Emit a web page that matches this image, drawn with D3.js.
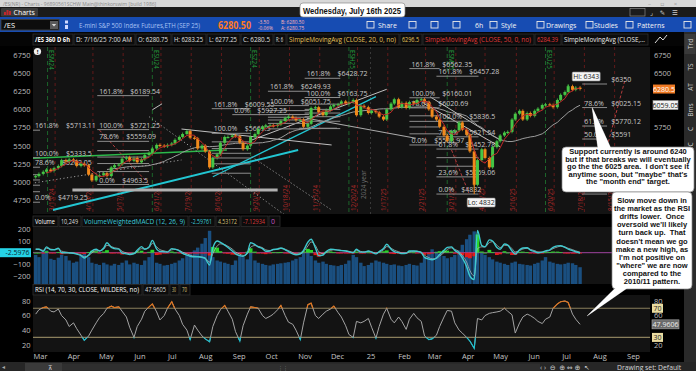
<!DOCTYPE html>
<html><head><meta charset="utf-8">
<script src="https://cdn.jsdelivr.net/npm/d3@7/dist/d3.min.js"></script>
<style>
html,body{margin:0;padding:0;background:#000;overflow:hidden;}
svg{display:block;}
text{white-space:pre;}
</style></head><body>
<svg id="chart" width="696" height="371" xmlns="http://www.w3.org/2000/svg"></svg>
<script>
// ================= DATA =================
const startDay = "2024-02-26";   // first half-week sample
const stepDays = 3.5;            // two samples per week

const closes = [
 5080,5110, 5140,5170, 5150,5190, 5220,5300, 5280,5310, 5290,5220, 5250,5230, 5100,5020, 5080,5090, 5120,5080,
 5200,5230, 5240,5320, 5340,5290, 5330,5270, 5310,5370, 5400,5460, 5510,5500, 5490,5510, 5530,5580, 5620,5660,
 5700,5610, 5600,5460, 5500,5420, 5200,5330, 5380,5540, 5620,5620, 5640,5630, 5540,5450, 5500,5620, 5660,5730,
 5760,5780, 5780,5770, 5790,5840, 5880,5900, 5880,5850, 5860,5760, 5800,6020, 6030,5960, 5920,5990, 6040,6060,
 6070,6110, 6080,6100, 6130,5920, 6050,6030, 5950,5980, 5960,5900, 5860,6000, 6080,6140, 6030,6090, 6020,6100,
 6080,6130, 6140,6100, 6000,5900, 5860,5760, 5640,5560, 5700,5710, 5820,5720, 5650,5420, 4960,5300, 5450,5330,
 5200,5480, 5560,5640, 5680,5690, 5860,5940, 5980,5860, 5950,5910, 5980,6010, 6060,6070, 6060,6030, 6130,6200,
 6240,6320, 6270,6300, 6280.5
];

const macdValues = [
 30,30,12,50,25,25,38,0,0,-2,
 -5,-12,-25,-45,-20,15,30,15,40,85,
 45,35,30,-3,-10,-15,-8,20,52,30,
 50,105,30,10,8,5,35,30,15,-5,
 -20,-30,-35,-35,-40,-50,-105,40,100,88,
 65,45,15,-10,-25,-30,0,85,70,50,
 35,12,15,28,32,40,25,10,-10,-18,
 -10,20,90,115,40,-25,-20,10,30,28,
 22,18,15,8,0,30,5,5,15,5,
 -10,10,35,72,30,10,0,-8,-5,15,
 15,12,0,-40,-55,-60,-45,-15,20,45,
 50,20,-5,-45,-120,-200,-230,190,60,50,
 110,100,45,30,75,65,15,-12,25,40,
 42,22,10,0,5,15,25,45,58,60,
 45,30,18,8,-2.6
];

const rsiValues = [
 62,68,71,72,66,65,69,60,54,45,
 50,42,33,26,32,40,50,57,63,70,
 73,71,72,66,58,44,30,45,55,66,
 72,76,65,54,60,70,79,69,60,48,
 40,27,47,40,32,28,24,45,60,68,
 74,66,55,38,25,46,62,72,71,70,
 60,56,59,62,68,74,60,51,48,40,
 27,50,75,77,60,56,62,66,69,73,
 64,58,46,34,30,52,50,52,56,44,
 29,45,62,70,55,50,58,52,41,55,
 63,57,52,32,27,28,33,45,58,67,
 66,50,40,36,30,25,15,56,54,60,
 63,64,65,66,70,66,61,36,50,58,
 62,60,56,52,49,55,58,70,76,79,
 80,78,62,55,47.96
];

const volumeK = [
 520,480,560,600,450,430,470,520,500,420,
 380,400,520,560,480,380,360,340,380,350,
 330,360,340,380,420,350,380,360,340,420,
 480,560,380,360,330,340,360,380,420,460,
 520,560,600,650,720,820,950,480,420,400,
 380,360,340,420,520,480,440,560,420,380,
 360,340,330,350,360,370,380,390,420,450,
 480,560,620,500,420,380,400,360,340,330,
 320,340,360,420,520,480,380,320,340,380,
 420,400,380,360,340,350,330,320,340,360,
 340,330,380,480,560,620,580,540,500,460,
 480,520,600,700,800,880,940,700,560,520,
 480,440,400,380,360,340,380,400,360,350,
 340,330,360,380,420,480,400,380,360,350,
 360,380,370,340,300
];

const priceTicks = [4750,5000,5250,5500,5750,6000,6250,6500,6750];
const macdTicks = [-200,-100,100,200];
const rsiTicks = [20,40,60,80];
const monthDates = ["2024-03-01","2024-04-01","2024-05-01","2024-06-01","2024-07-01","2024-08-01","2024-09-01","2024-10-01","2024-11-01","2024-12-01","2025-01-01","2025-02-01","2025-03-01","2025-04-01","2025-05-01","2025-06-01","2025-07-01","2025-08-01","2025-09-01"];
const monthLabels = ["Mar","Apr","May","Jun","Jul","Aug","Sep","Oct","Nov","Dec","25","Feb","Mar","Apr","May","Jun","Jul","Aug","Sep"];
const rollDates = ["2024-03-08","2024-06-13","2024-09-12","2024-12-12","2025-03-13","2025-06-12"];
const rollLabels = ["ESM24","ESU24","ESZ24","ESH25","ESM25","ESU25"];
const opexDates = ["2024-03-15","2024-04-19","2024-05-17","2024-06-21","2024-07-19","2024-08-16","2024-09-20","2024-10-18","2024-11-15","2024-12-20","2025-01-17","2025-02-21","2025-03-21","2025-04-17","2025-05-16","2025-06-20","2025-07-18","2025-08-15"];
const opexLabels = ["3/15/24","4/19/24","5/17/24","6/21/24","7/19/24","8/16/24","9/20/24","10/18/24","11/15/24","12/20/24","1/17/25","2/21/25","3/21/25","4/17/25","5/16/25","6/20/25","7/18/25","8/15/25"];
const yearMark = ["2025-01-01","2024 year"];

const fibLevels = [0,0.236,0.382,0.5,0.618,0.786,1,1.618];
const fibFrom   = ["2024-02-10","2024-04-23","2024-08-07","2024-09-28","2024-11-01","2025-02-06","2025-03-03","2025-07-16"];
const fibTo     = ["2024-03-01","2024-06-10","2024-09-12","2024-11-05","2024-12-04","2025-03-06","2025-04-11","2025-08-08"];
const fibLow    = [4719.25,4963.5,5119.25,5731.07,5735,5508.97,4832,4832];
const fibHigh   = [5333.5,5721.25,5669.5,6051.75,6163.75,6160.01,5836.5,6350];
const fibShown  = [[1.618,1,0.786,0],[1.618,1,0.786,0],[1.618,1],[1.618,1],[1.618,1],[1.618,1,0.786,0],[1.618,1,0.786,0.618,0.236,0],[0.786,0.618,0.5]];
const fibPriceOnly = [[],[],[],[],[],[],[],[1]];   // percentage hidden behind the Hi box
const singleLevel = {from:"2024-08-26", to:"2024-10-28", price:5927.25, pct:"0.0%"};

const trendLines = [
 {a:["2024-03-13",4612], b:["2024-10-26",5440], kind:"cyan"},
 {a:["2024-08-08",5071], b:["2025-01-06",6175], kind:"cyanThin"},
 {a:["2024-02-20",5325], b:["2024-08-21",5440], kind:"green"},
 {a:["2024-07-10",5729], b:["2024-11-26",5509], kind:"white"},
 {a:["2024-09-13",5577], b:["2025-01-16",6277], kind:"white"},
 {a:["2024-06-13",5994], b:["2024-06-22",6077], kind:"white"},
 {a:["2024-11-03",5877], b:["2025-02-12",5601], kind:"gray"},
 {a:["2024-10-27",5739], b:["2024-12-01",5739], kind:"gray"},
 {a:["2025-02-19",6084], b:["2025-05-01",5485], kind:"white"},
 {a:["2025-02-25",6175], b:["2025-05-01",5577], kind:"white"},
 {a:["2024-06-10",5899], b:["2024-10-15",4529], kind:"dotted"},
 {a:["2024-09-13",5347], b:["2024-11-26",4612], kind:"dotted"},
 {a:["2024-02-22",4980], b:["2024-07-10",5302], kind:"dotted"},
 {a:["2024-03-31",4888], b:["2024-10-07",4888], kind:"thick"},
 {a:["2024-04-25",5715], b:["2024-06-09",4980], kind:"redDash"},
 {a:["2025-03-17",5440], b:["2025-04-02",4846], kind:"redDash"},
 {a:["2025-08-08",5485], b:["2025-08-25",6428], kind:"redDash"}
];

const extremes = [
 {date:"2025-07-03", price:6343, label:"Hi: 6343", side:"above"},
 {date:"2025-04-07", price:4832, label:"Lo: 4832", side:"below"}
];

const lastPriceLabel = "6280.5", sma200Label = "6059.05", macdLastLabel = "-2.5976", rsiLastLabel = "47.9606";

const callout1 = ["Support currently is around 6240","but if that breaks we will eventually","go the the 6025 area.  I don't see it",'anytime soon, but "maybe" that\'s','the "month end" target.'];
const callout2 = ["Slow move down in","the market as the RSI","drifts lower.  Once","oversold we'll likely","turn back up.  That","doesn't mean we go","make a new high, as","I'm not positive on",'"where" we are now',"compared to the","2010/11 pattern."];
const dateCallout = "Wednesday, July 16th 2025";

// ================= SCALES =================
const parse = d3.timeParse("%Y-%m-%d");
const dates = closes.map((_, i) => d3.timeDay.offset(parse(startDay), Math.floor(i * stepDays)));
const x = d3.scaleTime().domain([parse("2024-03-01"), parse("2025-09-01")]).range([40, 633]);
const yP = d3.scaleLinear().domain([4750, 6750]).range([200, 55]);
const yM = d3.scaleLinear().domain([-200, 200]).range([276.1, 229.3]);
const yV = d3.scaleLinear().domain([0, 1000]).range([284, 228]);
const yR = d3.scaleLinear().domain([20, 80]).range([344.7, 301]);

const PL = 33, PR = 650;
const UI = "'Open Sans','DejaVu Sans',sans-serif";
const AR = "'Liberation Sans',Arial,sans-serif";
const svg = d3.select("#chart");
const defs = svg.append("defs");
function clip(id, x0, y0, w, h) { defs.append("clipPath").attr("id", id).append("rect").attr("x", x0).attr("y", y0).attr("width", w).attr("height", h); }
clip("cp", PL, 47, PR - PL, 167);
clip("cm", PL, 227, PR - PL, 57);
clip("cr", PL, 295, PR - PL, 57);
clip("crHi", PL, 295, PR - PL, yR(70) - 295);
clip("crLo", PL, yR(30), PR - PL, 352 - yR(30));

function fitText(sel, maxW) {
  sel.each(function () { const n = this; const w = n.getComputedTextLength(); if (w > maxW) { d3.select(n).attr("textLength", maxW).attr("lengthAdjust", "spacingAndGlyphs"); } });
  return sel;
}

// ================= CHROME =================
svg.append("rect").attr("width", 696).attr("height", 371).attr("fill", "#000");
svg.append("rect").attr("width", 696).attr("height", 7).attr("fill", "#d8d8d8");
svg.append("text").attr("x", 3).attr("y", 5.5).attr("font-size", 5).attr("font-family", UI).attr("fill", "#8c8c8c").text("/ES(NR) - Charts - 96890561SCHW Main@thinkorswim [build 1986]");
svg.append("text").attr("x", 648).attr("y", 5.5).attr("font-size", 6).attr("font-family", UI).attr("fill", "#999").text("–      ▫      ×");
svg.append("rect").attr("y", 7).attr("width", 696).attr("height", 10).attr("fill", "#1b1b1b");
svg.append("rect").attr("x", 1).attr("y", 8).attr("width", 37).attr("height", 8.5).attr("fill", "#3a3a3a").attr("rx", 1);
[[4, 12, 3], [6.5, 10, 5], [9, 11, 4]].forEach(d => svg.append("rect").attr("x", d[0]).attr("y", d[1]).attr("width", 2).attr("height", d[2]).attr("fill", "#c0282d"));
svg.append("text").attr("x", 13.5).attr("y", 15).attr("font-size", 7).attr("font-family", UI).attr("fill", "#fff").text("Charts");
svg.append("rect").attr("x", 630).attr("y", 8.5).attr("width", 15).attr("height", 7.5).attr("fill", "none").attr("stroke", "#888").attr("stroke-width", 0.7);
svg.append("text").attr("x", 650).attr("y", 15).attr("font-size", 6.5).attr("font-family", UI).attr("fill", "#ccc").text("⌟    ✎    ☰");
svg.append("rect").attr("y", 17).attr("width", 696).attr("height", 15).attr("fill", "#174cb2");
svg.append("rect").attr("x", 1).attr("y", 19.5).attr("width", 58).attr("height", 10.5).attr("fill", "#0d0d0d").attr("stroke", "#3c3c3c");
svg.append("text").attr("x", 4).attr("y", 28).attr("font-size", 7.5).attr("font-family", UI).attr("fill", "#fff").text("/ES");
svg.append("rect").attr("x", 50).attr("y", 21).attr("width", 8).attr("height", 8).attr("fill", "#5a5a5a");
svg.append("path").attr("d", "M51.8,24 L56.2,24 L54,26.5 Z").attr("fill", "#ddd");
svg.append("rect").attr("x", 65).attr("y", 20.5).attr("width", 3).attr("height", 3).attr("fill", "#cfd8ff");
svg.append("rect").attr("x", 65).attr("y", 25).attr("width", 3).attr("height", 4).attr("fill", "#cfd8ff");
fitText(svg.append("text").attr("x", 79).attr("y", 28).attr("font-size", 7.5).attr("font-family", UI).attr("fill", "#a8c3f4").text("E-mini S&P 500 Index Futures,ETH (SEP 25)"), 121);
fitText(svg.append("text").attr("x", 218).attr("y", 29).attr("font-size", 10).attr("font-weight", "bold").attr("font-family", UI).attr("fill", "#ff7a22").text("6280.50"), 33);
[["-3.50", 258, 23.5], ["-0.06%", 258, 29.5], ["B: 6280.50", 281, 23.5], ["A: 6280.75", 281, 29.5]].forEach(d =>
  svg.append("text").attr("x", d[1]).attr("y", d[2]).attr("font-size", 4.8).attr("font-family", UI).attr("fill", "#ffb7b7").text(d[0]));
[["Share", 378], ["6h", 475], ["Style", 501], ["Drawings", 546], ["Studies", 594], ["Patterns", 637]].forEach(d =>
  svg.append("text").attr("x", d[1]).attr("y", 27.5).attr("font-size", 7).attr("font-family", UI).attr("fill", "#f2f2f2").text(d[0]));
[367, 409, 431, 453, 490, 537, 586, 626, 684].forEach(px =>
  svg.append("rect").attr("x", px).attr("y", 21.5).attr("width", 7).attr("height", 6.5).attr("fill", "none").attr("stroke", "#e8e8e8").attr("stroke-width", 0.9));

svg.append("rect").attr("y", 32).attr("width", 684).attr("height", 14).attr("fill", "#050505");
const infoCells = [
 ["/ES 360 D 6h", 33, 73, "#ffffff", "bold"], ["D: 7/16/25 7:00 AM", 74, 135, "#e0e0e0"], ["O: 6280.75", 136, 171, "#e0e0e0"],
 ["H: 6283.25", 172, 206, "#e0e0e0"], ["L: 6277.25", 207, 240, "#e0e0e0"], ["C: 6280.5", 241, 273, "#e0e0e0"], ["R: 6", 274, 286, "#e0e0e0"],
 ["SimpleMovingAvg (CLOSE, 20, 0, no)", 287, 399, "#e7c35a"], ["6296.5", 400, 422, "#e7c35a"],
 ["SimpleMovingAvg (CLOSE, 50, 0, no)", 423, 534, "#e23a3a"], ["6284.39", 535, 561, "#e23a3a"],
 ["SimpleMovingAvg (CLOSE,...", 562, 648, "#ececec"]
];
function cells(list, y0, h) {
  list.forEach(c => {
    svg.append("rect").attr("x", c[1]).attr("y", y0).attr("width", c[2] - c[1]).attr("height", h).attr("fill", "#0c0c0c").attr("stroke", "#2f2f2f").attr("stroke-width", 0.8);
    fitText(svg.append("text").attr("x", c[1] + 2).attr("y", y0 + h - 3).attr("font-size", 7).attr("font-family", UI).attr("font-weight", c[4] || "normal").attr("fill", c[3]).text(c[0]), c[2] - c[1] - 5);
  });
}
cells(infoCells, 34, 11);
svg.append("path").attr("d", "M655,43 L660,37 L663,40 L667,35").attr("stroke", "#ddd").attr("fill", "none").attr("stroke-width", 1);

svg.append("rect").attr("x", PL).attr("y", 47).attr("width", PR - PL).attr("height", 167).attr("fill", "#131313");
svg.append("rect").attr("x", PL).attr("y", 227).attr("width", PR - PL).attr("height", 57).attr("fill", "#131313");
svg.append("rect").attr("x", PL).attr("y", 295).attr("width", PR - PL).attr("height", 57).attr("fill", "#131313");
cells([["Volume", 33, 58, "#fff"], ["10,249", 59, 81, "#ddd"], ["VolumeWeightedMACD (12, 26, 9)", 82, 188, "#3cc9d8"], ["-2.59761", 189, 215, "#3cc9d8"], ["4.53172", 216, 240, "#d9c27a"], ["-7.12934", 241, 268, "#d83a3a"], ["0", 269, 280, "#c455c4"]], 216, 10.5);
cells([["RSI (14, 70, 30, CLOSE, WILDERS, no)", 33, 142, "#fff"], ["47.9605", 143, 169, "#ddd"], ["30", 170, 179, "#d9c27a"], ["70", 180, 190, "#d9c27a"]], 284.5, 10.5);

svg.append("rect").attr("x", 684).attr("y", 32).attr("width", 12).attr("height", 330).attr("fill", "#2a2a2a");
svg.append("rect").attr("x", 684.5).attr("y", 34).attr("width", 11).attr("height", 20).attr("fill", "#3a3a3a");
[["Trd", 44], ["TS", 67], ["AT", 87], ["Bms", 110], ["C", 129], ["OC", 147]].forEach(d =>
  svg.append("text").attr("transform", `translate(692.5,${d[1]}) rotate(-90)`).attr("text-anchor", "middle").attr("font-size", 6.5).attr("font-family", UI).attr("fill", "#cfcfcf").text(d[0]));

svg.append("rect").attr("y", 362).attr("width", 696).attr("height", 9).attr("fill", "#262626");
svg.append("rect").attr("x", 25).attr("y", 363).attr("width", 37).attr("height", 8).attr("fill", "#3a3a3a");
svg.append("rect").attr("x", 62).attr("y", 363.5).attr("width", 478).attr("height", 7).attr("fill", "#2f2f2f");
svg.append("text").attr("x", 2).attr("y", 369).attr("font-size", 6).attr("font-family", UI).attr("fill", "#aaa").text("◂");
svg.append("text").attr("x", 48).attr("y", 369.5).attr("font-size", 6).attr("font-family", UI).attr("fill", "#ddd").text("⊼");
svg.append("text").attr("x", 278).attr("y", 369.5).attr("font-size", 5).attr("font-family", UI).attr("fill", "#999").text("⋮⋮");
svg.append("text").attr("x", 540).attr("y", 369.5).attr("font-size", 7).attr("font-family", UI).attr("fill", "#ccc").text("‹ ›  ⊖  ⊕ ⇔ ⊕  ↖");
svg.append("text").attr("x", 617).attr("y", 369.5).attr("font-size", 6.8).attr("font-family", UI).attr("fill", "#d8d8d8").text("Drawing set: Default");

// ================= PRICE PANE =================
const gp = svg.append("g").attr("clip-path", "url(#cp)");
opexDates.forEach((d, i) => {
  const xx = x(parse(d));
  gp.append("line").attr("x1", xx).attr("x2", xx).attr("y1", 47).attr("y2", 214).attr("stroke", "#6b1b1b").attr("stroke-dasharray", "3,3").attr("stroke-width", 0.9);
  gp.append("text").attr("transform", `translate(${xx - 1.5},211) rotate(-90)`).attr("font-size", 6.3).attr("font-family", UI).attr("fill", "#b22a2a").text(opexLabels[i]);
});
{ const xx = x(parse(yearMark[0]));
  gp.append("line").attr("x1", xx).attr("x2", xx).attr("y1", 47).attr("y2", 214).attr("stroke", "#3a3a3a").attr("stroke-dasharray", "2,3");
  gp.append("text").attr("transform", `translate(${xx - 5},199) rotate(-90)`).attr("font-size", 6.3).attr("font-family", UI).attr("fill", "#6e6e6e").text(yearMark[1]); }
rollDates.forEach((d, i) => {
  const xx = x(parse(d));
  gp.append("line").attr("x1", xx).attr("x2", xx).attr("y1", 47).attr("y2", 214).attr("stroke", "#1d6e2c").attr("stroke-dasharray", "4,3").attr("stroke-width", 0.9);
  gp.append("text").attr("transform", `translate(${xx + 1.5},50) rotate(90)`).attr("font-size", 6.3).attr("font-family", UI).attr("fill", "#239a3c").text(rollLabels[i]);
});

const lineStyles = {
  cyan: {c: "#22c6d2", w: 2}, cyanThin: {c: "#22c6d2", w: 1.3}, green: {c: "#2cb84a", w: 1.5},
  white: {c: "#d4d4d4", w: 0.9}, gray: {c: "#a9a9a9", w: 1.1}, dotted: {c: "#9a9a9a", w: 1, dash: "1.2,2.4"},
  thick: {c: "#b0b0b0", w: 3}, redDash: {c: "#b33b3b", w: 1, dash: "3,2"}
};
trendLines.forEach(t => {
  const s = lineStyles[t.kind];
  gp.append("line").attr("x1", x(parse(t.a[0]))).attr("y1", yP(t.a[1])).attr("x2", x(parse(t.b[0]))).attr("y2", yP(t.b[1]))
    .attr("stroke", s.c).attr("stroke-width", s.w).attr("stroke-dasharray", s.dash || null);
});

const fmt = v => String(+v.toFixed(2));
fibFrom.forEach((f, k) => {
  const x1 = x(parse(f)), x2 = x(parse(fibTo[k]));
  const lx = Math.max(x1, PL) + 2;
  fibLevels.forEach(p => {
    const v = fibLow[k] + p * (fibHigh[k] - fibLow[k]);
    const yy = yP(v);
    gp.append("line").attr("x1", x1).attr("x2", x2).attr("y1", yy).attr("y2", yy).attr("stroke", "#8d8d8d").attr("stroke-width", 1);
    if (fibShown[k].includes(p)) {
      gp.append("text").attr("x", lx).attr("y", yy - 2).attr("font-size", 7).attr("font-family", UI).attr("fill", "#c9c9c9")
        .text(`${(p * 100).toFixed(1)}%    $${fmt(v)}`);
    } else if (fibPriceOnly[k].includes(p)) {
      gp.append("text").attr("x", lx + 27).attr("y", yy - 2).attr("font-size", 7).attr("font-family", UI).attr("fill", "#c9c9c9").text(`$${fmt(v)}`);
    }
  });
});
{ const s = singleLevel, yy = yP(s.price), x1 = x(parse(s.from));
  gp.append("line").attr("x1", x1).attr("x2", x(parse(s.to))).attr("y1", yy).attr("y2", yy).attr("stroke", "#8d8d8d");
  gp.append("text").attr("x", x1 + 2).attr("y", yy - 2).attr("font-size", 7).attr("font-family", UI).attr("fill", "#c9c9c9").text(`${s.pct}    $${fmt(s.price)}`); }

function sma(arr, n) { return arr.map((_, i) => i < n - 1 ? null : d3.mean(arr.slice(i - n + 1, i + 1))); }
const sma50 = sma(closes, 4), sma200 = sma(closes, 20);
const lineGen = d3.line().defined(d => d[1] != null).x(d => x(d[0])).y(d => yP(d[1]));
gp.append("path").attr("d", lineGen(dates.map((d, i) => [d, sma200[i]]))).attr("fill", "none").attr("stroke", "#9c9c9c").attr("stroke-width", 1);

closes.forEach((c, i) => {
  const prev = i === 0 ? c - 15 : closes[i - 1];
  const up = c >= prev;
  const y1 = yP(Math.max(c, prev)), y2 = yP(Math.min(c, prev));
  gp.append("rect").attr("x", x(dates[i]) - 1.5).attr("width", 3).attr("y", y1).attr("height", Math.max(1.2, y2 - y1)).attr("fill", up ? "#46c646" : "#f28a1c");
  gp.append("line").attr("x1", x(dates[i])).attr("x2", x(dates[i])).attr("y1", y1 - 1.5).attr("y2", y2 + 1.5).attr("stroke", up ? "#46c646" : "#f28a1c").attr("stroke-width", 0.8);
});
gp.append("path").attr("d", lineGen(dates.map((d, i) => [d, sma50[i]]))).attr("fill", "none").attr("stroke", "#c22a2a").attr("stroke-width", 1);

extremes.forEach(e => {
  const dd = parse(e.date);
  const idx = d3.bisectLeft(dates, dd);
  const xx = x(dates[Math.min(idx, dates.length - 1)]);
  gp.append("line").attr("x1", xx).attr("x2", xx).attr("y1", yP(closes[idx])).attr("y2", yP(e.price)).attr("stroke", e.side === "above" ? "#46c646" : "#f28a1c").attr("stroke-width", 1);
  const bw = 28, bh = 9;
  const bx = e.side === "above" ? xx + 4 : xx - 7;
  const by = e.side === "above" ? yP(e.price) - 12.5 : yP(e.price) + 4;
  gp.append("rect").attr("x", bx).attr("y", by).attr("width", bw).attr("height", bh).attr("fill", "#f4f4f4").attr("stroke", "#888").attr("stroke-width", 0.6).attr("rx", 1);
  gp.append("text").attr("x", bx + bw / 2).attr("y", by + 6.8).attr("text-anchor", "middle").attr("font-size", 6.8).attr("font-family", UI).attr("fill", "#222").text(e.label);
});

svg.append("circle").attr("cx", 37.5).attr("cy", 51.5).attr("r", 3.6).attr("fill", "#f0f0f0");
svg.append("text").attr("x", 37.5).attr("y", 54).attr("text-anchor", "middle").attr("font-size", 6).attr("font-weight", "bold").attr("font-family", UI).attr("fill", "#111").text("!");

function styleAxis(g, size, color) {
  g.select(".domain").remove(); g.selectAll("line").remove();
  g.selectAll("text").attr("font-size", size).attr("font-family", UI).attr("fill", color);
}
svg.append("g").attr("transform", `translate(${PL - 1},0)`).call(d3.axisLeft(yP).tickValues(priceTicks).tickSize(0).tickPadding(1.5).tickFormat(d3.format("d"))).call(g => styleAxis(g, 7.5, "#bdbdbd"));
const rightBoxesY = [yP(6280.5), yP(6059.05)];
svg.append("g").attr("transform", `translate(652,0)`).call(d3.axisRight(yP).tickValues(priceTicks.filter(t => yP(t) < 142 && rightBoxesY.every(b => Math.abs(yP(t) - b) > 8))).tickSize(0).tickPadding(2).tickFormat(d3.format("d"))).call(g => styleAxis(g, 7.5, "#bdbdbd"));
function valueBox(xx, yy, w, fill, txtColor, label, stroke) {
  svg.append("rect").attr("x", xx).attr("y", yy - 4.5).attr("width", w).attr("height", 9).attr("fill", fill).attr("stroke", stroke || "none").attr("stroke-width", 0.6);
  svg.append("text").attr("x", xx + w / 2).attr("y", yy + 2.6).attr("text-anchor", "middle").attr("font-size", 7).attr("font-family", UI).attr("fill", txtColor).text(label);
}
valueBox(653, yP(+lastPriceLabel), 22, "#f07a23", "#fff", lastPriceLabel);
valueBox(653, yP(+sma200Label), 25, "#f2f2f2", "#222", sma200Label, "#999");

// ================= MACD / VOLUME PANE =================
const gm = svg.append("g").attr("clip-path", "url(#cm)");
volumeK.forEach((v, i) => {
  gm.append("rect").attr("x", x(dates[i]) - 1.7).attr("width", 3.4).attr("y", yV(v)).attr("height", yV(0) - yV(v)).attr("fill", "#1a4f80");
});
gm.append("line").attr("x1", PL).attr("x2", PR).attr("y1", yM(0)).attr("y2", yM(0)).attr("stroke", "#b04ab0").attr("stroke-width", 0.9);
const alpha = 0.6; const avg = [];
macdValues.forEach((v, i) => avg.push(i === 0 ? v : alpha * v + (1 - alpha) * avg[i - 1]));
macdValues.forEach((v, i) => {
  const d = v - avg[i];
  gm.append("rect").attr("x", x(dates[i]) - 1.9).attr("width", 3.8).attr("y", Math.min(yM(0), yM(d))).attr("height", Math.max(0.8, Math.abs(yM(d) - yM(0))))
    .attr("fill", d >= 0 ? "#28d628" : "#e01c1c");
});
const mLine = d3.line().x((d, i) => x(dates[i])).y(d => yM(d)).curve(d3.curveMonotoneX);
gm.append("path").attr("d", mLine(avg)).attr("fill", "none").attr("stroke", "#a9b9b9").attr("stroke-width", 0.8);
gm.append("path").attr("d", mLine(macdValues)).attr("fill", "none").attr("stroke", "#3fc9cf").attr("stroke-width", 1.4);
svg.append("g").attr("transform", `translate(${PL - 1},0)`).call(d3.axisLeft(yM).tickValues(macdTicks).tickSize(0).tickPadding(1.5)).call(g => styleAxis(g, 7.5, "#bdbdbd"));
svg.append("rect").attr("x", 0).attr("y", yM(0) - 4.5).attr("width", 31).attr("height", 9).attr("fill", "#25d3e6");
svg.append("text").attr("x", 29.5).attr("y", yM(0) + 2.6).attr("text-anchor", "end").attr("font-size", 7).attr("font-family", UI).attr("fill", "#0b2630").text(macdLastLabel);

// ================= RSI PANE =================
const gr = svg.append("g");
[70, 30].forEach(v => gr.append("line").attr("x1", PL).attr("x2", PR).attr("y1", yR(v)).attr("y2", yR(v)).attr("stroke", "#8a7f5c").attr("stroke-width", 1.1));
const rLine = d3.line().x((d, i) => x(dates[i])).y(d => yR(d));
const rPath = rLine(rsiValues);
gr.append("path").attr("clip-path", "url(#cr)").attr("d", rPath).attr("fill", "none").attr("stroke", "#a3a3a3").attr("stroke-width", 1);
gr.append("path").attr("clip-path", "url(#crHi)").attr("d", rPath).attr("fill", "none").attr("stroke", "#e0741c").attr("stroke-width", 1.2);
gr.append("path").attr("clip-path", "url(#crLo)").attr("d", rPath).attr("fill", "none").attr("stroke", "#1bbdcc").attr("stroke-width", 1.2);
svg.append("g").attr("transform", `translate(${PL - 1},0)`).call(d3.axisLeft(yR).tickValues(rsiTicks).tickSize(0).tickPadding(1.5)).call(g => styleAxis(g, 7.5, "#bdbdbd"));
const rsiLast = rsiValues[rsiValues.length - 1];
svg.append("g").attr("transform", `translate(652,0)`).call(d3.axisRight(yR).tickValues(rsiTicks.filter(t => Math.abs(yR(t) - yR(rsiLast)) > 7.5)).tickSize(0).tickPadding(2)).call(g => styleAxis(g, 7.5, "#bdbdbd"));
valueBox(652, yR(70), 11, "#e9dba0", "#222", "70");
valueBox(652, yR(30), 11, "#e9dba0", "#222", "30");
valueBox(652, yR(rsiLast), 27, "#6a6a6a", "#eee", rsiLastLabel, "#aaa");

svg.append("g").attr("transform", "translate(0,352)").call(d3.axisBottom(x).tickValues(monthDates.map(parse)).tickFormat((d, i) => monthLabels[i]).tickSize(0).tickPadding(2)).call(g => styleAxis(g, 7.5, "#c4c4c4"));

// ================= CALLOUTS =================
function callout(box, tail, lines, step, firstBase) {
  const g = svg.append("g");
  g.append("polygon").attr("points", tail.map(p => p.join(",")).join(" ")).attr("fill", "#fff").attr("stroke", "#8a8a8a").attr("stroke-width", 0.7);
  g.append("rect").attr("x", box[0]).attr("y", box[1]).attr("width", box[2]).attr("height", box[3]).attr("rx", 4).attr("fill", "#fff").attr("stroke", "#8a8a8a").attr("stroke-width", 0.7);
  g.append("polygon").attr("points", tail.map(p => p.join(",")).join(" ")).attr("fill", "#fff");
  const cx = box[0] + box[2] / 2;
  lines.forEach((t, i) => fitText(g.append("text").attr("x", cx).attr("y", firstBase + i * step).attr("text-anchor", "middle")
    .attr("font-size", 7.5).attr("font-weight", "bold").attr("font-family", AR).attr("fill", "#111").text(t), box[2] - 4));
}
callout([562, 147, 132, 45], [[598, 148.5], [611, 148.5], [592, 107]], callout1, 7.5, 154.3);
callout([612, 192, 80, 97], [[616, 287.5], [628, 287.5], [587, 316]], callout2, 8.17, 202.7);

svg.append("rect").attr("x", 300).attr("y", 3).attr("width", 105).attr("height", 14).attr("rx", 3).attr("fill", "#fff").attr("stroke", "#8a8a8a").attr("stroke-width", 0.7);
svg.append("text").attr("x", 303).attr("y", 13.7).attr("font-size", 9.2).attr("font-weight", "bold").attr("font-family", AR).attr("fill", "#111").attr("textLength", 98).attr("lengthAdjust", "spacingAndGlyphs").text(dateCallout);
</script>
</body></html>
